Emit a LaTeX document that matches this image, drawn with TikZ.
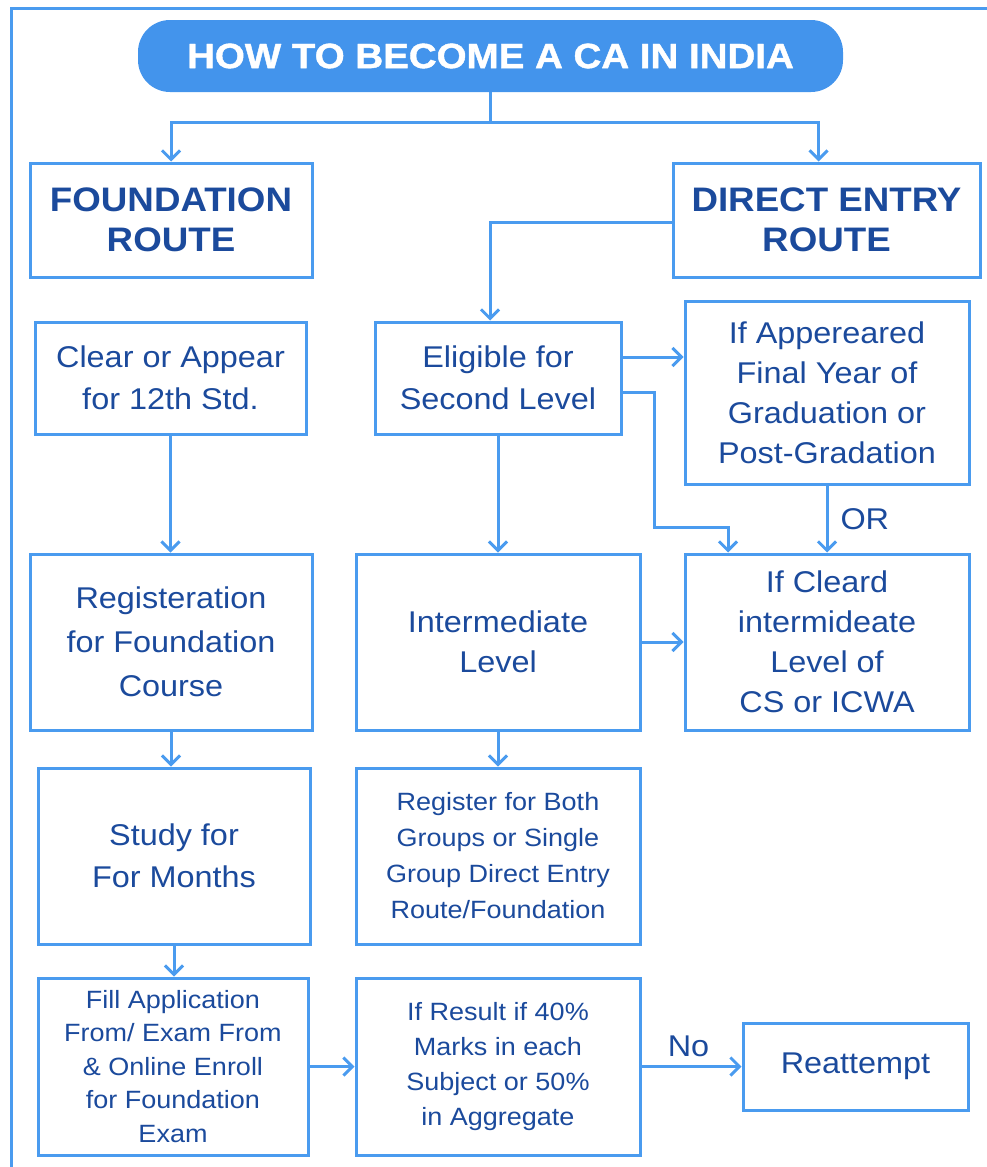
\documentclass[tikz,border=0pt]{standalone}
\usepackage{fontspec}
\setmainfont[FakeStretch=1.08]{Liberation Sans}
\newfontfamily\titlefont[FakeStretch=1.1,FakeBold=1.2]{Liberation Sans Bold}
\usetikzlibrary{arrows.meta}
\definecolor{lineblue}{RGB}{74,155,239}
\definecolor{titleblue}{RGB}{67,148,236}
\definecolor{textblue}{RGB}{27,74,156}
\begin{document}
\begin{tikzpicture}[x=1pt,y=-1pt,
  box/.style={draw=lineblue, line width=3pt, text=textblue, align=center, inner sep=0pt,
    font=\fontsize{30}{42}\selectfont},
  smallbox/.style={box, font=\fontsize{25}{35}\selectfont},
  routebox/.style={box, font=\fontsize{34}{40}\selectfont\bfseries},
  conn/.style={draw=lineblue, line width=3pt, -{Straight Barb[length=9pt,width=18pt]}},
  lbl/.style={text=textblue, font=\fontsize{30}{36}\selectfont, inner sep=0pt}]
\useasboundingbox (0,0) rectangle (987,1167);
\draw[lineblue, line width=3pt] (11,1175) -- (11,8) -- (995,8);
% nodes
\node[fill=titleblue, rounded corners=32pt, minimum width=705, minimum height=72, inner sep=0pt,
  text=white, font=\fontsize{35}{40}\selectfont\titlefont] (title) at (490.5,56) {HOW TO BECOME A CA IN INDIA};
\node[routebox, minimum width=282, minimum height=114] (found) at (171,220) {FOUNDATION\\ROUTE};
\node[routebox, minimum width=307, minimum height=114] (direct) at (826.5,220) {DIRECT ENTRY\\ROUTE};
\node[box, minimum width=271, minimum height=112] (clear) at (170.5,378) {Clear or Appear\\for 12th Std.};
\node[box, minimum width=246, minimum height=112] (eligible) at (498,378) {Eligible for\\Second Level};
\node[box, minimum width=284, minimum height=183, font=\fontsize{30}{40}\selectfont] (appeared) at (827,392.5) {If Appereared\\Final Year of\\Graduation or\\Post-Gradation};
\node[box, minimum width=282, minimum height=176, font=\fontsize{30}{44}\selectfont] (reg) at (171,642) {Registeration\\for Foundation\\Course};
\node[box, minimum width=284, minimum height=176, font=\fontsize{30}{40}\selectfont] (inter) at (498,642) {Intermediate\\Level};
\node[box, minimum width=284, minimum height=176, font=\fontsize{30}{40}\selectfont] (cleared) at (827,642) {If Cleard\\intermideate\\Level of\\CS or ICWA};
\node[box, minimum width=272, minimum height=176] (study) at (174,856) {Study for\\For Months};
\node[smallbox, minimum width=284, minimum height=176, font=\fontsize{25}{36}\selectfont] (register) at (498,856) {Register for Both\\Groups or Single\\Group Direct Entry\\Route/Foundation};
\node[smallbox, minimum width=270, minimum height=177, font=\fontsize{25}{33.5}\selectfont] (fill) at (173,1066.5) {Fill Application\\From/ Exam From\\\& Online Enroll\\for Foundation\\Exam};
\node[smallbox, minimum width=284, minimum height=177] (result) at (498,1066.5) {If Result if 40\%\\Marks in each\\Subject or 50\%\\in Aggregate};
\node[box, minimum width=225, minimum height=87] (reattempt) at (855.5,1066.5) {Reattempt};
% connectors
\draw[conn] (title.south) -- ++(0,30) -| (found.north);
\draw[conn] (title.south) -- ++(0,30) -| ([xshift=-8pt]direct.north);
\draw[conn] ([yshift=-2pt]direct.west) -| ([xshift=-8pt]eligible.north);
\coordinate (e1) at ([yshift=21pt]eligible.east);
\draw[conn] (e1) -- (e1 -| appeared.west);
\coordinate (e2) at ([yshift=-14pt]eligible.east);
\draw[conn] (e2) -- ++(32,0) -- ++(0,135) -| ([xshift=-99pt]cleared.north);
\draw[conn] (appeared.south) -- (cleared.north) node[midway, right=12pt, lbl] {OR};
\draw[conn] (eligible.south) -- (inter.north);
\draw[conn] (inter.east) -- (cleared.west);
\draw[conn] (inter.south) -- (register.north);
\draw[conn] (clear.south) -- (clear.south |- reg.north);
\draw[conn] (reg.south) -- (reg.south |- study.north);
\draw[conn] (study.south) -- (study.south |- fill.north);
\draw[conn] (fill.east) -- (result.west);
\draw[conn] (result.east) -- (reattempt.west) node[midway, above=8pt, xshift=-3pt, lbl] {No};
\end{tikzpicture}
\end{document}
